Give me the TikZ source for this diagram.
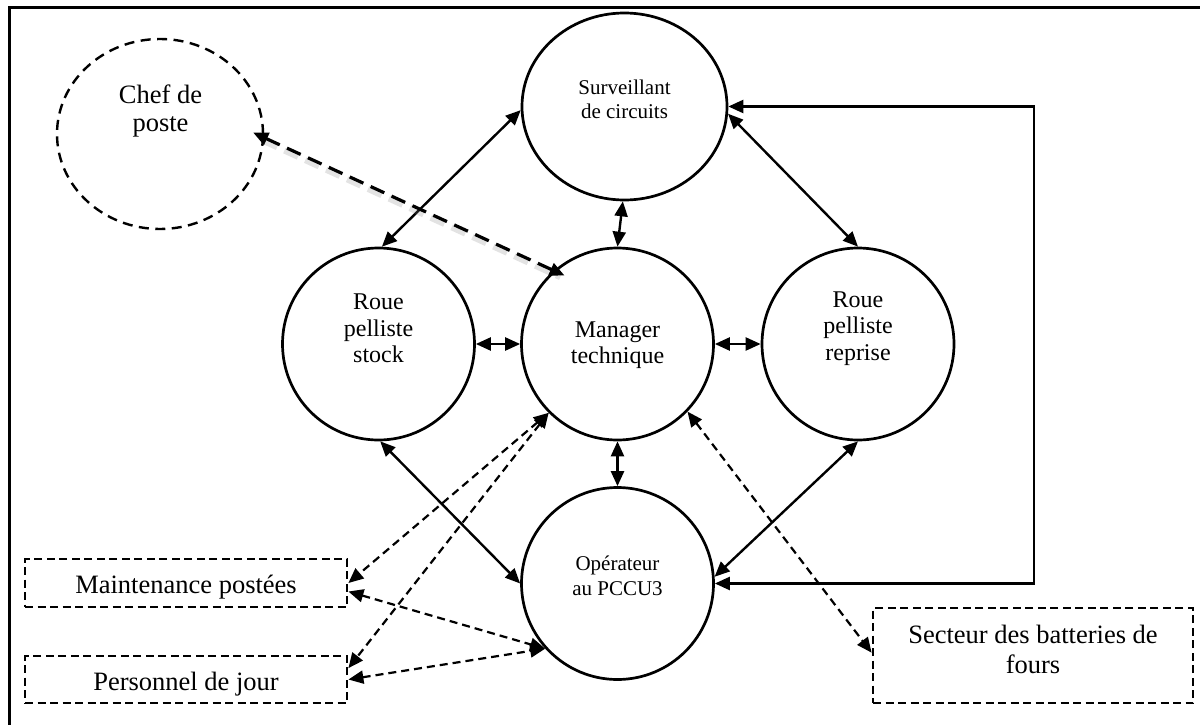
\documentclass[tikz,border=0pt]{standalone}
\usepackage{fontspec}
\setmainfont{Liberation Serif}
\usetikzlibrary{shapes.geometric,arrows.meta,calc}
\tikzset{
  >={Triangle[length=15pt,width=13pt]},
  circ/.style={draw, ellipse, inner sep=0pt, line width=2.7pt, minimum width=192pt, minimum height=192pt},
  chefc/.style={draw, ellipse, inner sep=0pt, line width=2.4pt, dash pattern=on 10pt off 6.5pt, minimum width=206pt, minimum height=190pt},
  dbox/.style={draw, rectangle, inner sep=0pt, line width=2.8pt, dash pattern=on 8pt off 4.5pt, text height=27.5pt, text depth=6pt},
  lbl/.style={align=center, inner sep=0pt},
  bigf/.style={font=\fontsize{24}{26.5}\selectfont},
  lrgf/.style={font=\fontsize{26.5}{30}\selectfont},
  sol/.style={line width=2.4pt, <->},
  dsh/.style={line width=2.2pt, dash pattern=on 8pt off 5pt, <->},
  chefarr/.style={line width=3.2pt, dash pattern=on 15pt off 8pt, <->, shorten <=-12pt, shorten >=-12pt},
  shadowl/.style={line width=6pt, draw=gray, opacity=0.22, dash pattern=on 15pt off 8pt, shorten <=-4pt, shorten >=-4pt},
}
\begin{document}
\begin{tikzpicture}[x=1pt,y=-1pt]
\useasboundingbox (0,0) rectangle (1200,725);
\fill[white] (0,0) rectangle (1200,725);
% frame
\draw[line width=3pt] (1200,8) -- (9,8) -- (9,725);

% circles
\node[chefc] (chef) at (160,134) {};
\node[lbl, font=\fontsize{26.5}{28.5}\selectfont] (chefT) at (160.5,111.2) {Chef de\\poste};

\node[circ, minimum width=205pt, minimum height=187pt] (surv) at (624.5,106.5) {};
\node[lbl,font=\fontsize{21}{23.5}\selectfont] (survT) at (624.5,99.4) {Surveillant\\de circuits};

\node[circ] (stock) at (378.5,344) {};
\node[lbl,bigf] (stockT) at (378.5,328.5) {Roue\\pelliste\\stock};

\node[circ] (mgr) at (617.5,344) {};
\node[lbl,bigf] (mgrT) at (617.5,345) {Manager\\technique};

\node[circ] (rep) at (858,344) {};
\node[lbl,bigf] (repT) at (858,328.5) {Roue\\pelliste\\reprise};

\node[circ] (op) at (617.5,583.5) {};
\node[lbl,font=\fontsize{21}{25}\selectfont] (opT) at (617.5,575.4) {Opérateur\\au PCCU3};

% boxes
\node[dbox, lrgf, minimum width=322pt, minimum height=48pt] (maint) at (186,583) {Maintenance postées};
\node[dbox, lrgf, minimum width=322pt, minimum height=47pt] (pers) at (186,679.5) {Personnel de jour};
\node[dbox, minimum width=320pt, minimum height=95pt, text height=0pt, text depth=0pt] (sect) at (1033,655.5) {};
\node[lbl,lrgf] (sectT) at (1033,649) {Secteur des batteries de\\fours};

% loop coordinates
\coordinate (c1) at (1034,106.5);
\coordinate (c2) at (1034,583.5);

% solid connectors
\draw[sol] (surv.182) -- (stock.88);
\draw[sol] (surv.-91) -- (mgr.north);
\draw[sol] (surv.-4) -- (rep.north);
\draw[sol] (surv.east) -- (c1) -- (c2) -- (op.east);
\draw[sol] (stock.east) -- (mgr.west);
\draw[sol] (mgr.east) -- (rep.west);
\draw[sol] (mgr.south) -- (op.north);
\draw[sol] (stock.-89) -- (op.west);
\draw[sol] (rep.south) -- (op.4);

% dashed connectors
\draw[dsh] (mgr.225) -- (maint.east);
\draw[dsh] (mgr.225) -- (pers.4);
\draw[dsh] (maint.-3) -- (op.222);
\draw[dsh] (pers.east) -- (op.222);
\draw[dsh] (mgr.-44) -- (sect.179);

% chef arrow with shadow
\begin{scope}[transform canvas={xshift=3pt,yshift=-5pt}]
\draw[shadowl] (chef.-2) -- (mgr.131);
\end{scope}
\draw[chefarr] (chef.-2) -- (mgr.131);
\end{tikzpicture}
\end{document}
